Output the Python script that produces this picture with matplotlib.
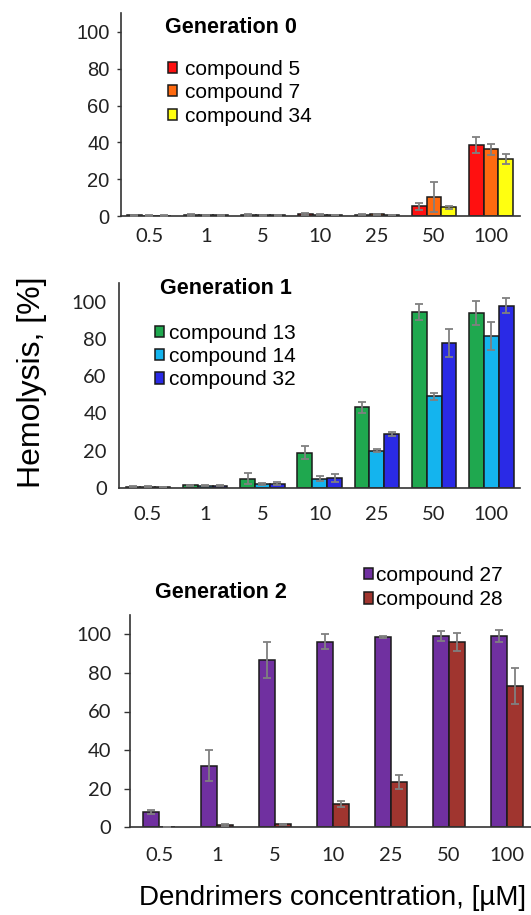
import matplotlib
matplotlib.use("Agg")
import matplotlib.pyplot as plt
import numpy as np

# concentrations (uM)
conc = ["0.5", "1", "5", "10", "25", "50", "100"]

# Generation 0
gen0_names = ["compound 5", "compound 7", "compound 34"]
gen0_c5 = [0.3, 0.5, 0.6, 0.9, 0.7, 5.3, 38.5]
gen0_c7 = [0.2, 0.3, 0.5, 0.8, 0.9, 10.2, 36.2]
gen0_c34 = [0.2, 0.3, 0.4, 0.5, 0.5, 4.7, 31.0]
gen0_c5_err = [0.2, 0.4, 0.5, 0.5, 0.4, 1.8, 4.4]
gen0_c7_err = [0.1, 0.2, 0.3, 0.4, 0.4, 8.2, 3.1]
gen0_c34_err = [0.1, 0.1, 0.2, 0.2, 0.2, 0.8, 2.5]

# Generation 1
gen1_names = ["compound 13", "compound 14", "compound 32"]
gen1_c13 = [0.5, 1.2, 4.8, 18.8, 43.2, 94.6, 94.2]
gen1_c14 = [0.5, 1.1, 2.0, 4.9, 20.0, 49.2, 81.6]
gen1_c32 = [0.4, 1.0, 2.2, 5.4, 28.8, 77.9, 98.0]
gen1_c13_err = [0.3, 0.4, 3.0, 3.5, 2.9, 4.3, 6.5]
gen1_c14_err = [0.2, 0.3, 0.5, 1.4, 1.0, 2.0, 7.5]
gen1_c32_err = [0.2, 0.3, 0.6, 2.2, 1.0, 7.5, 4.0]

# Generation 2
gen2_names = ["compound 27", "compound 28"]
gen2_c27 = [7.9, 31.8, 86.7, 96.2, 98.8, 99.1, 99.0]
gen2_c28 = [0.3, 1.2, 1.5, 12.1, 23.6, 96.2, 73.2]
gen2_c27_err = [1.0, 8.0, 9.5, 3.8, 0.5, 2.6, 3.0]
gen2_c28_err = [0.1, 0.3, 0.3, 1.7, 3.5, 4.6, 9.2]

W, H = 531, 915
fig = plt.figure(figsize=(W / 100, H / 100), dpi=100)

BODY = ["Liberation Sans", "DejaVu Sans"]
TICKF = ["Lato", "DejaVu Sans"]


def px_axes(l, r, b, top):
    # pixel box -> figure fraction
    return fig.add_axes([l / W, (H - b) / H, (r - l) / W, (b - top) / H])


def draw_panel(ax, series, errs, colors, names, bw, ypad, ylen, yfont, xpad):
    x = np.arange(len(conc))
    n = len(series)
    for i in range(n):
        off = (i - (n - 1) / 2) * bw
        ax.bar(x + off, series[i], bw, color=colors[i], edgecolor="#1a1a1a",
               linewidth=1.1, label=names[i], zorder=2)
        ax.errorbar(x + off, series[i], yerr=errs[i], fmt="none",
                    ecolor="#808080", elinewidth=1.3, capsize=3, capthick=1.3,
                    zorder=3)
    ax.set_xlim(-0.5, len(conc) - 0.5)
    ax.set_ylim(0, 110)
    ax.set_yticks([0, 20, 40, 60, 80, 100])
    ax.set_xticks(x)
    ax.set_xticklabels(conc, family=TICKF, fontsize=14.5, color="#222222")
    for t in ax.get_yticklabels():
        t.set_family(yfont)
        t.set_fontsize(14.5)
        t.set_color("#222222")
    ax.tick_params(axis="x", length=0, pad=xpad)
    ax.tick_params(axis="y", length=ylen, width=1, pad=ypad, color="#333333")
    for s in ["top", "right"]:
        ax.spines[s].set_visible(False)
    for s in ["left", "bottom"]:
        ax.spines[s].set_color("#333333")
        ax.spines[s].set_linewidth(1.2)
    ax.patch.set_alpha(0)


# panel 1
ax1 = px_axes(120.5, 519.5, 216, 13.5)
draw_panel(ax1, [gen0_c5, gen0_c7, gen0_c34],
           [gen0_c5_err, gen0_c7_err, gen0_c34_err],
           ["#ff1010", "#ff6a10", "#ffff10"], gen0_names, 0.26,
           5, 3, BODY, 8.5)
fig.text(165 / W, 1 - 27.5 / H, "Generation 0", family=BODY, fontsize=15.5,
         fontweight="bold", va="center", ha="left")
ax1.legend(loc="upper left", bbox_to_anchor=(168 / W, 1 - 59.7 / H),
           bbox_transform=fig.transFigure, frameon=False, borderpad=0,
           borderaxespad=0, handlelength=0.45, handleheight=0.45,
           handletextpad=0.35, labelspacing=0.22,
           prop={"family": BODY, "size": 15})

# panel 2
ax2 = px_axes(119.3, 520, 487.7, 283.3)
draw_panel(ax2, [gen1_c13, gen1_c14, gen1_c32],
           [gen1_c13_err, gen1_c14_err, gen1_c32_err],
           ["#1fa84f", "#14b4ee", "#2a2ae6"], gen1_names, 0.26,
           9, 0, TICKF, 13.5)
fig.text(160 / W, 1 - 288.5 / H, "Generation 1", family=BODY, fontsize=15.5,
         fontweight="bold", va="center", ha="left")
ax2.legend(loc="upper left", bbox_to_anchor=(155 / W, 1 - 323.7 / H),
           bbox_transform=fig.transFigure, frameon=False, borderpad=0,
           borderaxespad=0, handlelength=0.45, handleheight=0.45,
           handletextpad=0.22, labelspacing=0.21,
           prop={"family": BODY, "size": 15})

# panel 3
ax3 = px_axes(130, 536, 827.3, 615)
draw_panel(ax3, [gen2_c27, gen2_c28], [gen2_c27_err, gen2_c28_err],
           ["#7030a0", "#a0352f"], gen2_names, 0.276,
           9, 4.5, TICKF, 14.5)
fig.text(155 / W, 1 - 592 / H, "Generation 2", family=BODY, fontsize=15.5,
         fontweight="bold", va="center", ha="left")
ax3.legend(loc="upper left", bbox_to_anchor=(364 / W, 1 - 565.7 / H),
           bbox_transform=fig.transFigure, frameon=False, borderpad=0,
           borderaxespad=0, handlelength=0.45, handleheight=0.45,
           handletextpad=0.12, labelspacing=0.27,
           prop={"family": BODY, "size": 15})

fig.text(32 / W, 1 - 382 / H, "Hemolysis, [%]", family=BODY, fontsize=23,
         rotation=90, va="center", ha="center")
fig.text(333 / W, 1 - 898 / H, "Dendrimers concentration, [µM]", family=BODY,
         fontsize=20, va="center", ha="center")

fig.savefig("out.png", dpi=100)
